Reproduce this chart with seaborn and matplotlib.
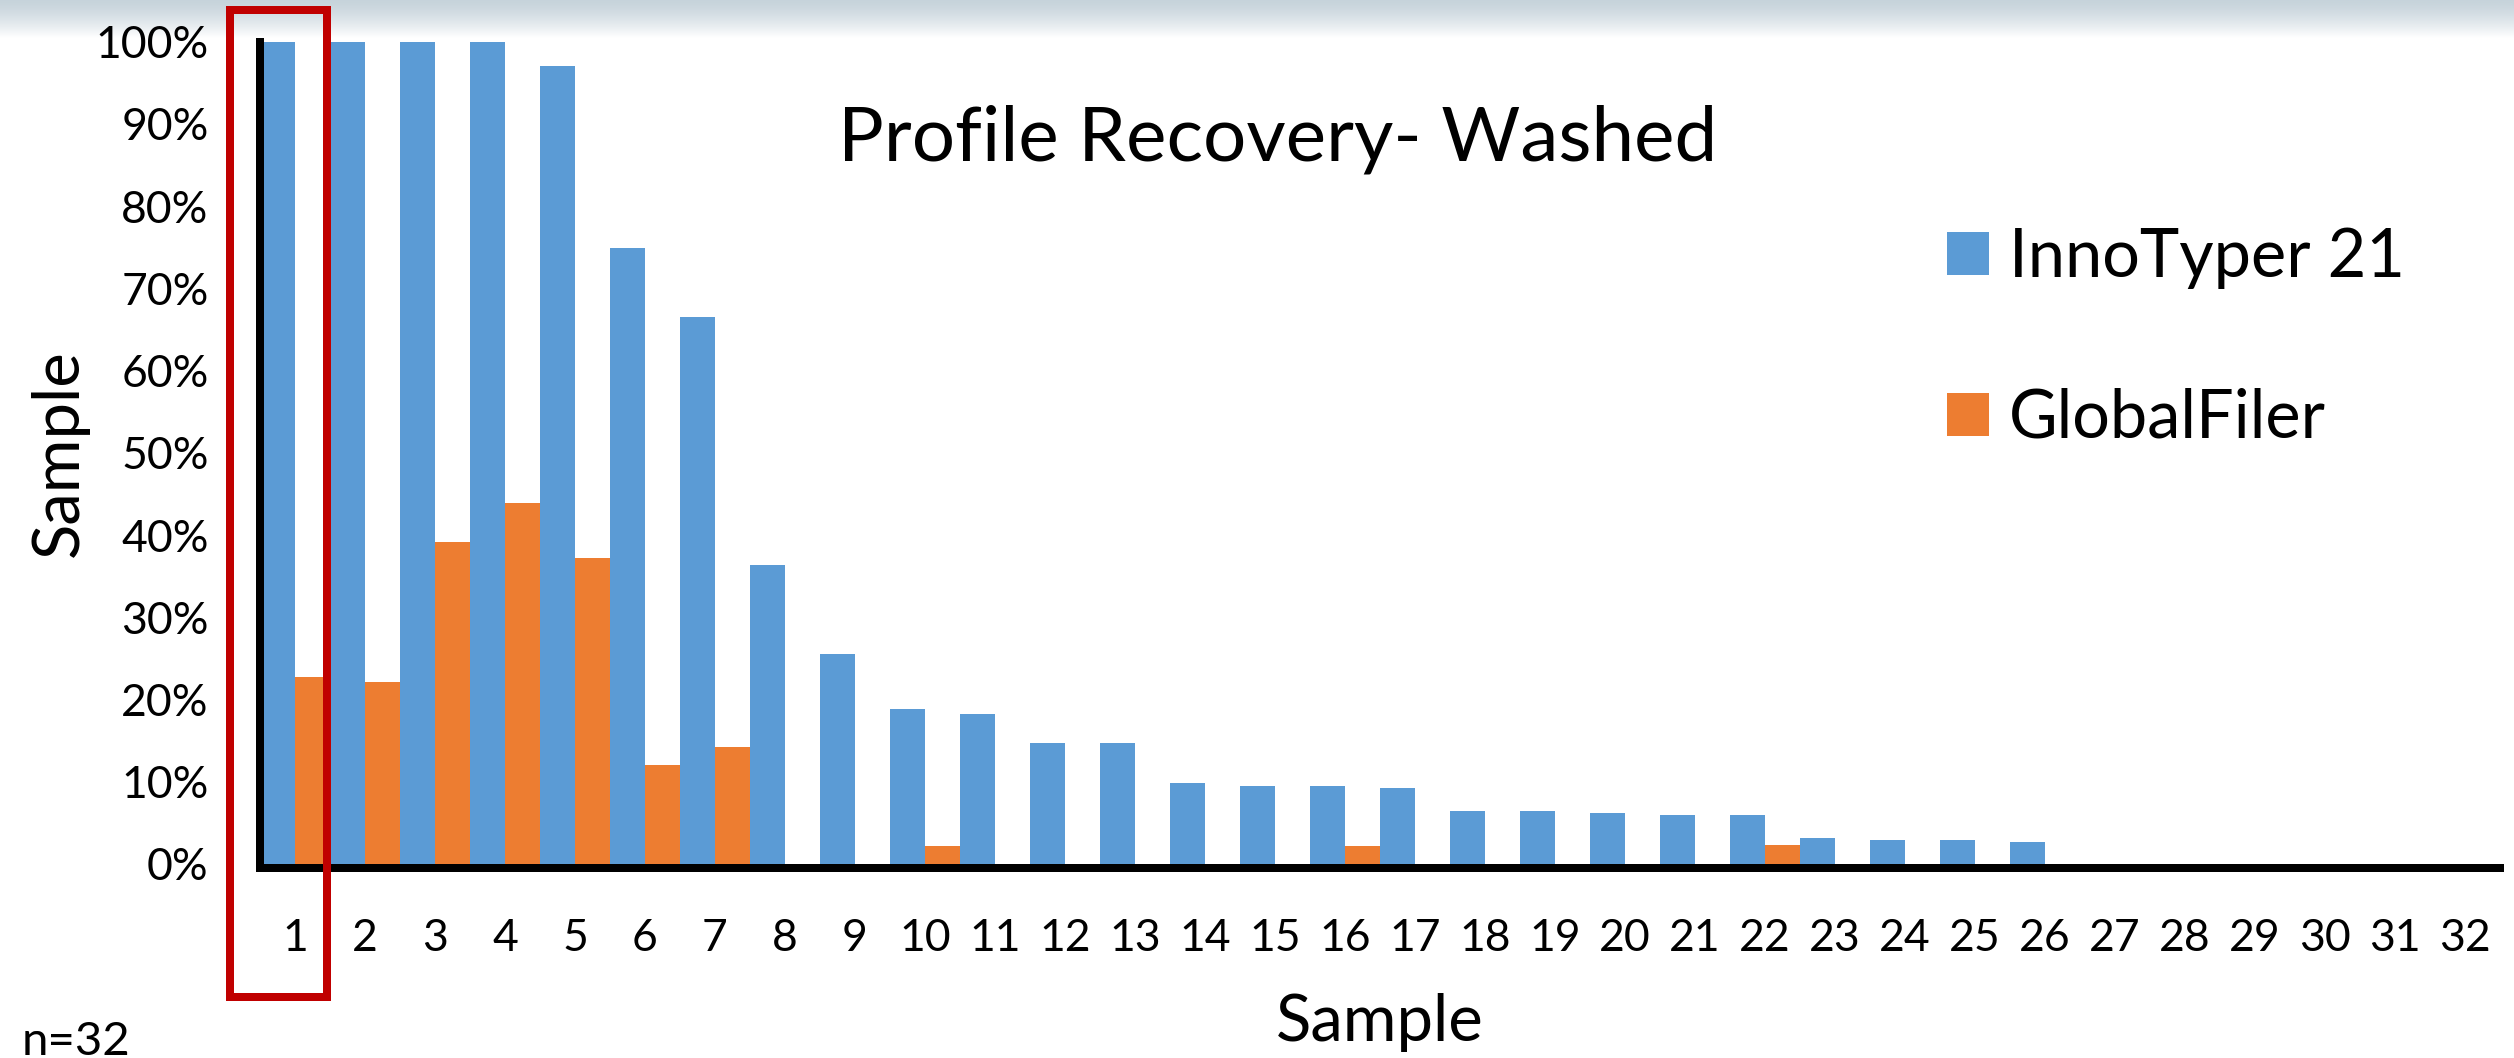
import numpy as np
import pandas as pd
import matplotlib.pyplot as plt
import matplotlib.transforms as mtransforms
from matplotlib.patches import Rectangle
from matplotlib.ticker import PercentFormatter
import seaborn as sns

# values (fraction of full profile)
samples = [str(i) for i in range(1, 33)]
kits = ['InnoTyper 21', 'GlobalFiler']
innotyper = [1.00, 1.00, 1.00, 1.00, 0.970, 0.749, 0.665, 0.364, 0.255, 0.189,
             0.183, 0.147, 0.147, 0.099, 0.095, 0.095, 0.092, 0.064, 0.064, 0.062,
             0.060, 0.060, 0.032, 0.029, 0.029, 0.027, 0, 0, 0, 0, 0, 0]
globalfiler = [0.227, 0.221, 0.392, 0.439, 0.372, 0.120, 0.142, 0, 0, 0.022,
               0, 0, 0, 0, 0, 0.022, 0, 0, 0, 0,
               0, 0.023, 0, 0, 0, 0, 0, 0, 0, 0, 0, 0]
highlight = '1'

df = pd.DataFrame({
    'Sample': samples * 2,
    'Recovery': innotyper + globalfiler,
    'Kit': [kits[0]] * len(samples) + [kits[1]] * len(samples),
})

sns.set_style('white')
plt.rcParams['font.family'] = ['Lato', 'DejaVu Sans']

W, H = 2514, 1058
fig = plt.figure(figsize=(W / 100, H / 100), dpi=100)
px = 72 / 100  # points per pixel

# slide background band at the top
bg = fig.add_axes([0, 1 - 38 / H, 1, 38 / H], zorder=-5)
t = np.linspace(0, 1, 64) ** 1.4
top = np.array([0.78, 0.83, 0.86])
grad = top[None, :] * (1 - t[:, None]) + np.ones(3)[None, :] * t[:, None]
bg.imshow(grad[:, None, :], aspect='auto', extent=[0, 1, 0, 1])
bg.axis('off')

ax = fig.add_axes([260 / W, 1 - 864 / H, 2240 / W, (864 - 41.7) / H])
ax.patch.set_alpha(0)

sns.barplot(data=df, x='Sample', y='Recovery', hue='Kit', order=samples,
            hue_order=kits, palette=['#5B9BD5', '#ED7D31'], width=1.0, gap=0,
            saturation=1, linewidth=0, errorbar=None, ax=ax)

ax.set_xlim(-0.5, len(samples) - 0.5)
ax.set_ylim(0, 1)
ax.set_yticks(np.arange(0, 1.01, 0.1))
ax.yaxis.set_major_formatter(PercentFormatter(1.0, decimals=0))
ax.tick_params(length=0, labelsize=32, pad=37, labelcolor='black')
ax.tick_params(axis='x', pad=36)

for s in ['top', 'right']:
    ax.spines[s].set_visible(False)
for s in ['left', 'bottom']:
    ax.spines[s].set_color('black')
    ax.spines[s].set_linewidth(8 * px)
ax.spines['bottom'].set_position(('outward', 4 * px))

ax.set_xlabel('Sample', fontsize=47, color='black')
ax.set_ylabel('Sample', fontsize=47, color='black')
ax.xaxis.set_label_coords(0.5, -0.157)
ax.yaxis.set_label_coords(-0.0765, 0.5)

handles, labels = ax.get_legend_handles_labels()
leg = ax.legend(handles, labels, loc='upper left',
                bbox_to_anchor=(1914 / W, 1 - 194 / H),
                bbox_transform=fig.transFigure, frameon=False, fontsize=48,
                borderpad=0, handlelength=0.63, handleheight=0.615,
                handletextpad=0.3, labelspacing=1.48)
for txt in leg.get_texts():
    txt.set_color('black')

fig.text(1278 / W, 1 - 160 / H, 'Profile Recovery- Washed', fontsize=55,
         ha='center', va='baseline', color='black')
fig.text(22 / W, 1 - 1055 / H, f'n={len(samples)}', fontsize=34,
         va='baseline', color='black')

# red box around the highlighted sample
i = samples.index(highlight)
trans = mtransforms.blended_transform_factory(ax.transData, fig.transFigure)
fig.add_artist(Rectangle((i - 0.93, 1 - 997 / H), 1.385, (997 - 10) / H,
                         transform=trans, fill=False, edgecolor='#C00000',
                         linewidth=8 * px, zorder=10))

fig.savefig('out.png', dpi=100)
